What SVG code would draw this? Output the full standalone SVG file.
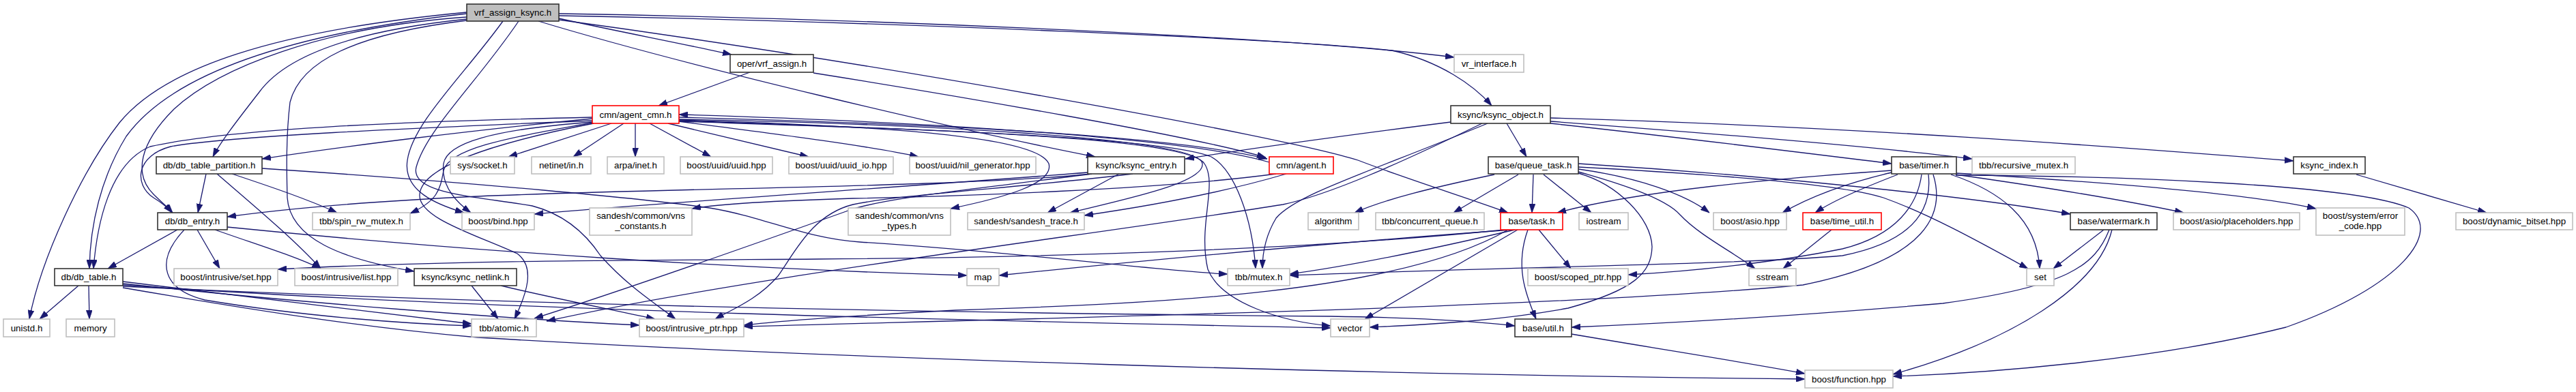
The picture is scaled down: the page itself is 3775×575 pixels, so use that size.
<svg xmlns="http://www.w3.org/2000/svg" width="3775" height="575" viewBox="0 0 3775 575">
<style>
.e{fill:none;stroke:#191970;stroke-width:1.3;marker-end:url(#ah)}
.n rect{fill:#fff;stroke-width:1.6}
.b rect{stroke:#333}
.g rect{stroke:#bfbfbf}
.r rect{stroke:#ff0000}
text{font-family:"Liberation Sans",Arial,Helvetica,sans-serif;font-size:13.33px;fill:#000;text-anchor:middle}
</style>
<defs>
<marker id="ah" viewBox="0 0 10 7" refX="10" refY="3.5" markerWidth="13" markerHeight="9" orient="auto" markerUnits="userSpaceOnUse" preserveAspectRatio="none"><path d="M0,0L10,3.5L0,7z" fill="#191970" stroke="#191970" stroke-width="0.5"/></marker>
</defs>
<rect width="3775" height="575" fill="#fff"/>
<g id="edges">
<path class="e" d="M819,27 C900,45 1000,64 1072,80"/>
<path class="e" d="M819,20 C1300,28 1900,55 2131,84"/>
<path class="e" d="M819,23 C1300,32 1900,58 2040,74 C2110,90 2160,125 2186,155"/>
<path class="e" d="M819,29 C1300,95 1880,200 1990,235 C2060,262 2150,290 2210,312"/>
<path class="e" d="M789,31 C1000,95 1400,190 1605,230"/>
<path class="e" d="M684,28 C520,45 420,80 380,135 C345,180 322,210 312,230"/>
<path class="e" d="M684,25 C470,40 320,100 255,160 C205,210 195,255 225,285 C237,297 246,304 253,312"/>
<path class="e" d="M684,20 C420,50 250,110 185,200 C148,260 132,330 131,394"/>
<path class="e" d="M684,30 C520,50 440,90 425,150 C419,200 420,250 421,290 C425,350 500,380 607,398"/>
<path class="e" d="M737,31 C680,110 605,180 597,235 C590,280 640,300 680,312"/>
<path class="e" d="M684,18 C400,45 240,100 175,180 C120,250 60,380 43,468"/>
<path class="e" d="M760,31 C700,120 625,190 610,245 C600,285 700,288 780,302 C830,315 860,345 880,375 C920,420 960,445 990,468"/>
<path class="e" d="M1099,106 L965,155"/>
<path class="e" d="M1192,107 C1400,140 1750,200 1855,231"/>
<path class="e" d="M896,181 L745,230"/>
<path class="e" d="M914,181 L840,230"/>
<path class="e" d="M931,181 L931,230"/>
<path class="e" d="M952,181 L1042,230"/>
<path class="e" d="M979,181 L1185,230"/>
<path class="e" d="M994,178 C1150,198 1280,215 1346,230"/>
<path class="e" d="M995,172 C1300,180 1700,195 1857,233"/>
<path class="e" d="M1860,238 C1750,205 1400,180 995,168"/>
<path class="e" d="M868,174 C700,190 500,215 384,233"/>
<path class="e" d="M868,177 C600,188 330,200 250,215 C200,228 195,270 225,290 C238,298 246,305 252,312"/>
<path class="e" d="M868,172 C600,178 340,188 220,215 C160,240 142,330 137,394"/>
<path class="e" d="M868,179 C720,190 655,210 650,240 C646,272 668,296 690,312"/>
<path class="e" d="M868,180 C760,200 660,215 650,250 C645,280 640,295 601,313"/>
<path class="e" d="M870,181 C720,210 618,245 615,285 C612,320 700,345 758,372 C785,392 772,430 754,468"/>
<path class="e" d="M995,176 C1300,185 1520,200 1537,240 C1545,270 1470,290 1393,306"/>
<path class="e" d="M995,175 C1400,183 1760,205 1762,240 C1766,268 1650,292 1568,312"/>
<path class="e" d="M995,177 C1300,188 1700,200 1775,230 C1810,250 1835,320 1840,394"/>
<path class="e" d="M995,178 C1350,190 1740,200 1765,240 C1785,270 1755,330 1770,395 C1790,445 1880,472 1950,478"/>
<path class="e" d="M1870,255 C1700,278 1400,288 1250,291 C1150,294 1060,298 1014,306"/>
<path class="e" d="M1885,255 C1800,280 1700,300 1589,316"/>
<path class="e" d="M302,255 L290,312"/>
<path class="e" d="M318,255 C370,300 430,350 470,394"/>
<path class="e" d="M340,255 C400,275 450,292 494,312"/>
<path class="e" d="M384,247 C700,268 950,292 1040,305 C1120,318 1180,350 1260,355 C1500,370 1700,398 1799,402"/>
<path class="e" d="M260,337 L158,394"/>
<path class="e" d="M289,337 L322,394"/>
<path class="e" d="M315,337 C380,360 430,375 470,394"/>
<path class="e" d="M270,337 C225,385 240,425 300,440 C450,465 600,475 691,478"/>
<path class="e" d="M333,333 C700,370 1100,395 1417,404"/>
<path class="e" d="M115,419 L58,468"/>
<path class="e" d="M130,419 L131,468"/>
<path class="e" d="M180,413 C400,440 600,465 691,475"/>
<path class="e" d="M180,416 C450,445 750,468 937,477"/>
<path class="e" d="M180,418 C700,455 1500,472 1950,481"/>
<path class="e" d="M180,420 C800,450 1500,460 1950,464 C2080,466 2170,472 2220,478"/>
<path class="e" d="M180,422 C400,460 550,482 700,495 C1200,525 2000,550 2645,556"/>
<path class="e" d="M1600,255 C1400,275 1000,275 700,288 C550,295 420,306 333,318"/>
<path class="e" d="M1594,253 C1300,276 1000,295 783,314"/>
<path class="e" d="M1640,255 L1535,312"/>
<path class="e" d="M1600,255 C1450,275 1290,290 1240,310 C1100,360 900,430 783,467"/>
<path class="e" d="M1660,255 C1500,275 1320,285 1250,300 C1190,315 1165,370 1140,405 C1110,440 1070,455 1048,468"/>
<path class="e" d="M691,419 L730,468"/>
<path class="e" d="M734,419 C800,435 900,455 960,468"/>
<path class="e" d="M2272,173 C2700,185 3100,215 3361,236"/>
<path class="e" d="M2272,178 C2500,195 2750,215 2890,233"/>
<path class="e" d="M2272,181 C2450,200 2650,225 2772,240"/>
<path class="e" d="M2208,181 L2237,230"/>
<path class="e" d="M2126,179 C2000,195 1850,215 1737,233"/>
<path class="e" d="M2180,181 C2000,255 1900,285 1870,320 C1855,345 1850,370 1850,394"/>
<path class="e" d="M2172,181 C2050,240 1950,285 1880,300 C1600,345 1100,405 801,471"/>
<path class="e" d="M2190,256 C2100,275 2030,292 1985,312"/>
<path class="e" d="M2225,256 L2130,312"/>
<path class="e" d="M2247,256 L2245,312"/>
<path class="e" d="M2262,256 L2332,312"/>
<path class="e" d="M2313,248 C2400,260 2470,285 2505,312"/>
<path class="e" d="M2313,252 C2370,268 2440,290 2462,315 C2490,345 2540,370 2572,394"/>
<path class="e" d="M2313,254 C2370,270 2420,320 2421,362 C2420,400 2396,425 2298,452 C2200,470 2100,476 2007,480"/>
<path class="e" d="M2313,245 C2500,255 2700,270 2760,290 C2830,315 2910,360 2972,394"/>
<path class="e" d="M2313,240 C2600,258 2900,290 3034,314"/>
<path class="e" d="M2220,337 C2100,365 1980,390 1890,402"/>
<path class="e" d="M2215,337 C1900,360 1600,390 1464,404"/>
<path class="e" d="M2205,337 C1900,368 1500,378 1200,380 C900,382 650,382 407,395"/>
<path class="e" d="M2224,337 L2000,468"/>
<path class="e" d="M2239,337 C2220,390 2235,430 2251,468"/>
<path class="e" d="M2255,337 L2302,394"/>
<path class="e" d="M2210,337 C2050,430 1700,445 1400,455 C1250,463 1150,470 1090,477"/>
<path class="e" d="M2772,250 C2600,262 2400,280 2282,312"/>
<path class="e" d="M2772,253 C2700,270 2650,290 2612,312"/>
<path class="e" d="M2781,256 C2740,272 2690,292 2660,312"/>
<path class="e" d="M2816,256 C2810,300 2780,345 2700,365 C2600,385 2480,398 2386,403"/>
<path class="e" d="M2826,256 C2832,310 2800,355 2700,375 C2550,388 2200,392 1890,404"/>
<path class="e" d="M2833,256 C2850,310 2830,380 2642,418 C2300,450 1600,465 1090,479"/>
<path class="e" d="M2859,256 C2930,280 2985,320 2989,394"/>
<path class="e" d="M2866,257 C3100,258 3450,270 3530,305 C3580,340 3520,420 3350,480 C3150,530 2900,548 2774,552"/>
<path class="e" d="M2866,254 C3100,268 3300,285 3394,306"/>
<path class="e" d="M2866,256 C3000,275 3120,295 3200,312"/>
<path class="e" d="M3083,337 L3009,394"/>
<path class="e" d="M3091,337 C3070,390 3030,420 2847,445 C2650,462 2450,474 2303,480"/>
<path class="e" d="M3095,337 C3075,420 2950,500 2774,549"/>
<path class="e" d="M3453,256 L3644,312"/>
<path class="e" d="M2684,337 L2613,394"/>
<path class="e" d="M2303,490 C2450,515 2560,532 2645,548"/>
</g>
<g id="n_vrf_assign_ksync" class="n b"><rect x="684" y="6" width="135" height="25" style="fill:#bfbfbf"/><text x="751.5" y="23.3">vrf_assign_ksync.h</text></g>
<g id="n_oper_vrf_assign" class="n b"><rect x="1070" y="80" width="122" height="26"/><text x="1131" y="97.7">oper/vrf_assign.h</text></g>
<g id="n_vr_interface" class="n g"><rect x="2131" y="80" width="102" height="26"/><text x="2182" y="97.7">vr_interface.h</text></g>
<g id="n_agent_cmn" class="n r"><rect x="868" y="155" width="127" height="26"/><text x="931.5" y="172.7">cmn/agent_cmn.h</text></g>
<g id="n_ksync_object" class="n b"><rect x="2126" y="155" width="146" height="26"/><text x="2199" y="172.7">ksync/ksync_object.h</text></g>
<g id="n_db_table_partition" class="n b"><rect x="229" y="230" width="155" height="25"/><text x="306.5" y="247.2">db/db_table_partition.h</text></g>
<g id="n_sys_socket" class="n g"><rect x="660" y="230" width="94" height="25"/><text x="707" y="247.2">sys/socket.h</text></g>
<g id="n_netinet_in" class="n g"><rect x="779" y="230" width="87" height="25"/><text x="822.5" y="247.2">netinet/in.h</text></g>
<g id="n_arpa_inet" class="n g"><rect x="890" y="230" width="83" height="25"/><text x="931.5" y="247.2">arpa/inet.h</text></g>
<g id="n_uuid" class="n g"><rect x="997" y="230" width="135" height="25"/><text x="1064.5" y="247.2">boost/uuid/uuid.hpp</text></g>
<g id="n_uuid_io" class="n g"><rect x="1156" y="230" width="153" height="25"/><text x="1232.5" y="247.2">boost/uuid/uuid_io.hpp</text></g>
<g id="n_nil_generator" class="n g"><rect x="1333" y="230" width="185" height="25"/><text x="1425.5" y="247.2">boost/uuid/nil_generator.hpp</text></g>
<g id="n_ksync_entry" class="n b"><rect x="1594" y="230" width="142" height="25"/><text x="1665" y="247.2">ksync/ksync_entry.h</text></g>
<g id="n_agent" class="n r"><rect x="1860" y="230" width="94" height="25"/><text x="1907" y="247.2">cmn/agent.h</text></g>
<g id="n_queue_task" class="n b"><rect x="2181" y="230" width="132" height="25"/><text x="2247" y="247.2">base/queue_task.h</text></g>
<g id="n_timer" class="n b"><rect x="2772" y="230" width="95" height="25"/><text x="2819.5" y="247.2">base/timer.h</text></g>
<g id="n_recursive_mutex" class="n g"><rect x="2890" y="230" width="151" height="25"/><text x="2965.5" y="247.2">tbb/recursive_mutex.h</text></g>
<g id="n_ksync_index" class="n b"><rect x="3361" y="230" width="105" height="25"/><text x="3413.5" y="247.2">ksync_index.h</text></g>
<g id="n_db_entry" class="n b"><rect x="231" y="312" width="102" height="25"/><text x="282" y="329.2">db/db_entry.h</text></g>
<g id="n_spin_rw_mutex" class="n g"><rect x="458" y="312" width="143" height="25"/><text x="529.5" y="329.2">tbb/spin_rw_mutex.h</text></g>
<g id="n_bind" class="n g"><rect x="677" y="312" width="106" height="25"/><text x="730" y="329.2">boost/bind.hpp</text></g>
<g id="n_vns_constants" class="n g"><rect x="864" y="305" width="150" height="40"/><text x="939" y="320.5">sandesh/common/vns</text><text x="939" y="335.5">_constants.h</text></g>
<g id="n_vns_types" class="n g"><rect x="1243" y="305" width="150" height="40"/><text x="1318" y="320.5">sandesh/common/vns</text><text x="1318" y="335.5">_types.h</text></g>
<g id="n_sandesh_trace" class="n g"><rect x="1418" y="312" width="171" height="25"/><text x="1503.5" y="329.2">sandesh/sandesh_trace.h</text></g>
<g id="n_algorithm" class="n g"><rect x="1917" y="312" width="74" height="25"/><text x="1954" y="329.2">algorithm</text></g>
<g id="n_concurrent_queue" class="n g"><rect x="2016" y="312" width="159" height="25"/><text x="2095.5" y="329.2">tbb/concurrent_queue.h</text></g>
<g id="n_task" class="n r"><rect x="2199" y="312" width="91" height="25"/><text x="2244.5" y="329.2">base/task.h</text></g>
<g id="n_iostream" class="n g"><rect x="2314" y="312" width="72" height="25"/><text x="2350" y="329.2">iostream</text></g>
<g id="n_asio" class="n g"><rect x="2511" y="312" width="107" height="25"/><text x="2564.5" y="329.2">boost/asio.hpp</text></g>
<g id="n_time_util" class="n r"><rect x="2642" y="312" width="115" height="25"/><text x="2699.5" y="329.2">base/time_util.h</text></g>
<g id="n_watermark" class="n b"><rect x="3034" y="312" width="127" height="25"/><text x="3097.5" y="329.2">base/watermark.h</text></g>
<g id="n_placeholders" class="n g"><rect x="3185" y="312" width="185" height="25"/><text x="3277.5" y="329.2">boost/asio/placeholders.hpp</text></g>
<g id="n_error_code" class="n g"><rect x="3394" y="305" width="130" height="40"/><text x="3459" y="320.5">boost/system/error</text><text x="3459" y="335.5">_code.hpp</text></g>
<g id="n_dynamic_bitset" class="n g"><rect x="3599" y="312" width="171" height="25"/><text x="3684.5" y="329.2">boost/dynamic_bitset.hpp</text></g>
<g id="n_db_table" class="n b"><rect x="80" y="394" width="100" height="25"/><text x="130" y="411.2">db/db_table.h</text></g>
<g id="n_intrusive_set" class="n g"><rect x="255" y="394" width="152" height="25"/><text x="331" y="411.2">boost/intrusive/set.hpp</text></g>
<g id="n_intrusive_list" class="n g"><rect x="432" y="394" width="151" height="25"/><text x="507.5" y="411.2">boost/intrusive/list.hpp</text></g>
<g id="n_ksync_netlink" class="n b"><rect x="607" y="394" width="150" height="25"/><text x="682" y="411.2">ksync/ksync_netlink.h</text></g>
<g id="n_map" class="n g"><rect x="1417" y="394" width="47" height="25"/><text x="1440.5" y="411.2">map</text></g>
<g id="n_mutex" class="n g"><rect x="1799" y="394" width="91" height="25"/><text x="1844.5" y="411.2">tbb/mutex.h</text></g>
<g id="n_scoped_ptr" class="n g"><rect x="2239" y="394" width="147" height="25"/><text x="2312.5" y="411.2">boost/scoped_ptr.hpp</text></g>
<g id="n_sstream" class="n g"><rect x="2563" y="394" width="69" height="25"/><text x="2597.5" y="411.2">sstream</text></g>
<g id="n_set" class="n g"><rect x="2970" y="394" width="40" height="25"/><text x="2990" y="411.2">set</text></g>
<g id="n_unistd" class="n g"><rect x="5" y="468" width="68" height="26"/><text x="39" y="485.7">unistd.h</text></g>
<g id="n_memory" class="n g"><rect x="97" y="468" width="71" height="26"/><text x="132.5" y="485.7">memory</text></g>
<g id="n_atomic" class="n g"><rect x="691" y="468" width="95" height="26"/><text x="738.5" y="485.7">tbb/atomic.h</text></g>
<g id="n_intrusive_ptr" class="n g"><rect x="937" y="468" width="153" height="26"/><text x="1013.5" y="485.7">boost/intrusive_ptr.hpp</text></g>
<g id="n_vector" class="n g"><rect x="1950" y="468" width="57" height="26"/><text x="1978.5" y="485.7">vector</text></g>
<g id="n_util" class="n b"><rect x="2220" y="468" width="83" height="26"/><text x="2261.5" y="485.7">base/util.h</text></g>
<g id="n_function" class="n g"><rect x="2645" y="543" width="129" height="26"/><text x="2709.5" y="560.7">boost/function.hpp</text></g>
</svg>
